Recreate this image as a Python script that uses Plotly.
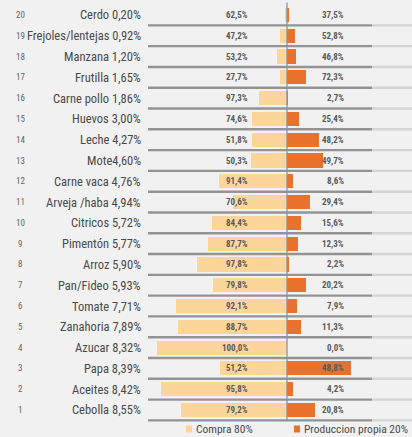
import plotly.graph_objects as go

ranks = list(range(1, 21))
names = ["Cebolla", "Aceites", "Papa", "Azucar", "Zanahoria", "Tomate", "Pan/Fideo",
         "Arroz", "Pimentón", "Citricos", "Arveja /haba", "Carne vaca", "Mote",
         "Leche", "Huevos", "Carne pollo", "Frutilla", "Manzana",
         "Frejoles/lentejas", "Cerdo"]
share = [8.55, 8.42, 8.39, 8.32, 7.89, 7.71, 5.93, 5.90, 5.77, 5.72, 4.94, 4.76,
         4.60, 4.27, 3.00, 1.86, 1.65, 1.20, 0.92, 0.20]
compra = [79.2, 95.8, 51.2, 100.0, 88.7, 92.1, 79.8, 97.8, 87.7, 84.4, 70.6, 91.4,
          50.3, 51.8, 74.6, 97.3, 27.7, 53.2, 47.2, 62.5]
propia = [20.8, 4.2, 48.8, 0.0, 11.3, 7.9, 20.2, 2.2, 12.3, 15.6, 29.4, 8.6,
          49.7, 48.2, 25.4, 2.7, 72.3, 46.8, 52.8, 37.5]
legend_names = ["Compra 80%", "Produccion propia 20%"]

W, H = 412, 437
C_COMPRA = "#fcd59b"
C_PROPIA = "#e8712b"
TXT = "#4a4a4a"
FONT = "Liberation Sans Narrow, Arial Narrow, Roboto Condensed, sans-serif"

def fmt(v):
    return f"{v:.1f}".replace(".", ",") + "%"

def sfmt(v):
    return f"{v:.2f}".replace(".", ",") + "%"

px_per_unit = 15.6
cx = 287
def dx(px):
    return (px - cx) / px_per_unit

YMIN, YMAX = -0.30, 20.72
def py_paper(yv):
    return (yv - YMIN) / (YMAX - YMIN)

x_compra = [-s * c / 100 for s, c in zip(share, compra)]
x_propia = [s * p / 100 for s, p in zip(share, propia)]

fig = go.Figure()

shapes = []
# row separator lines as thin rectangles in paper coordinates
for r in ranks:
    yc = py_paper(r - 0.5)
    hh = 1.2 / H
    shapes.append(dict(type="rect", xref="paper", yref="paper", x0=148 / W, x1=372 / W,
                       y0=yc - hh, y1=yc + hh, fillcolor="#939393", line=dict(width=0)))
    shapes.append(dict(type="rect", xref="paper", yref="paper", x0=372 / W, x1=1.0,
                       y0=yc - hh, y1=yc + hh, fillcolor="#d4d4d4", line=dict(width=0)))

fig.add_trace(go.Bar(y=ranks, x=x_compra, orientation="h", name=legend_names[0],
                     marker=dict(color=C_COMPRA, line=dict(width=0)), width=0.68))
fig.add_trace(go.Bar(y=ranks, x=x_propia, orientation="h", name=legend_names[1],
                     marker=dict(color=C_PROPIA, line=dict(width=0)), width=0.68))

# center line
shapes.append(dict(type="line", xref="x", yref="y", x0=0, x1=0, y0=0.5, y1=20.6,
                   line=dict(color="#8795a3", width=1.3)))

annotations = []
for r, n, s, c, p in zip(ranks, names, share, compra, propia):
    sep = "" if n == "Mote" else " "
    annotations.append(dict(x=20 / W, xref="paper", y=r, yref="y", text=str(r),
                            showarrow=False, xanchor="center",
                            font=dict(size=9, color="#666", family=FONT)))
    annotations.append(dict(x=143 / W, xref="paper", y=r, yref="y", text=f"{n}{sep}{sfmt(s)}",
                            showarrow=False, xanchor="right",
                            font=dict(size=12.5, color=TXT, family=FONT)))
    annotations.append(dict(x=250 / W, xref="paper", y=r, yref="y", text=f"<b>{fmt(c)}</b>",
                            showarrow=False, xanchor="right",
                            font=dict(size=9, color="#5a5a5a", family=FONT)))
    annotations.append(dict(x=346 / W, xref="paper", y=r, yref="y", text=f"<b>{fmt(p)}</b>",
                            showarrow=False, xanchor="right",
                            font=dict(size=9, color="#5a5a5a", family=FONT)))

# manual legend
leg_y = 429
for (sx, tx, col, name) in [(186, 194, C_COMPRA, legend_names[0]),
                            (294, 302, C_PROPIA, legend_names[1])]:
    shapes.append(dict(type="rect", xref="paper", yref="paper",
                       x0=sx / W, x1=(sx + 6) / W,
                       y0=(H - leg_y - 3.5) / H, y1=(H - leg_y + 3.5) / H,
                       fillcolor=col, line=dict(width=0)))
    annotations.append(dict(x=tx / W, xref="paper", y=(H - leg_y) / H, yref="paper",
                            text=name, showarrow=False, xanchor="left", yanchor="middle",
                            font=dict(size=11.5, color=TXT, family=FONT)))

fig.update_layout(
    width=W, height=H,
    margin=dict(l=0, r=0, t=0, b=0),
    paper_bgcolor="#f1f1f1", plot_bgcolor="rgba(0,0,0,0)",
    barmode="relative", bargap=0,
    showlegend=False,
    xaxis=dict(range=[dx(0), dx(W)], visible=False, fixedrange=True),
    yaxis=dict(range=[YMIN, YMAX], visible=False, fixedrange=True),
    shapes=shapes, annotations=annotations,
    font=dict(family=FONT),
)
fig.write_html("out.html")
